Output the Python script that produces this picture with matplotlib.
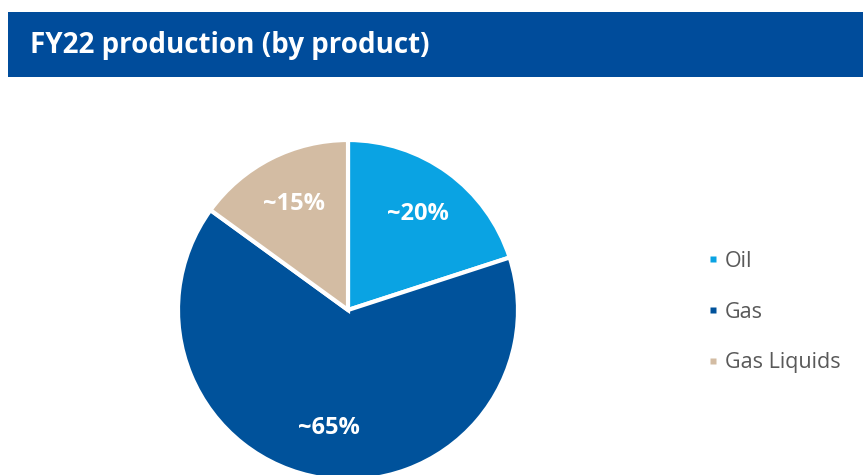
import matplotlib.pyplot as plt
from matplotlib.lines import Line2D
from matplotlib.patches import Rectangle

# production split by product (approximate shares, %)
products = ["Oil", "Gas", "Gas Liquids"]
shares = [20, 65, 15]
share_labels = ["~20%", "~65%", "~15%"]
colors = ["#0AA3E3", "#00529B", "#D3BCA3"]

title = "FY22 production (by product)"
header_color = "#004C9B"

plt.rcParams["font.family"] = ["Open Sans", "DejaVu Sans"]

fig = plt.figure(figsize=(8.63, 4.75), dpi=100)
fig.patch.set_facecolor("white")

# header band
fig.patches.append(Rectangle((8 / 863, 1 - 77 / 475), 1 - 8 / 863, 65 / 475,
                             transform=fig.transFigure, facecolor=header_color,
                             edgecolor="none", zorder=0))
fig.text(30 / 863, 1 - 45 / 475, title, color="white", fontsize=20,
         fontweight="bold", va="center", ha="left")

# pie
ax = fig.add_axes([178 / 863, -5 / 475, 340 / 863, 340 / 475])
wedges, texts = ax.pie(shares, labels=share_labels, colors=colors,
                       startangle=90, counterclock=False, labeldistance=0.7,
                       wedgeprops=dict(edgecolor="white", linewidth=3),
                       textprops=dict(color="white", fontsize=17, fontweight="bold",
                                      ha="center", va="center"))
ax.set_xlim(-1.0, 1.0)
ax.set_ylim(-1.0, 1.0)
ax.set_aspect("equal")

# legend with small square markers
handles = [Line2D([0], [0], marker="s", linestyle="none", markersize=4,
                  markerfacecolor=c, markeredgecolor="none") for c in colors]
leg = fig.legend(handles, products, loc="center left",
                 bbox_to_anchor=(696 / 863, 1 - 312 / 475), frameon=False,
                 fontsize=15.5, labelspacing=1.38, handletextpad=0.25,
                 handlelength=0.6, borderpad=0)
for t in leg.get_texts():
    t.set_color("#595959")

fig.savefig("out.png", dpi=100)
